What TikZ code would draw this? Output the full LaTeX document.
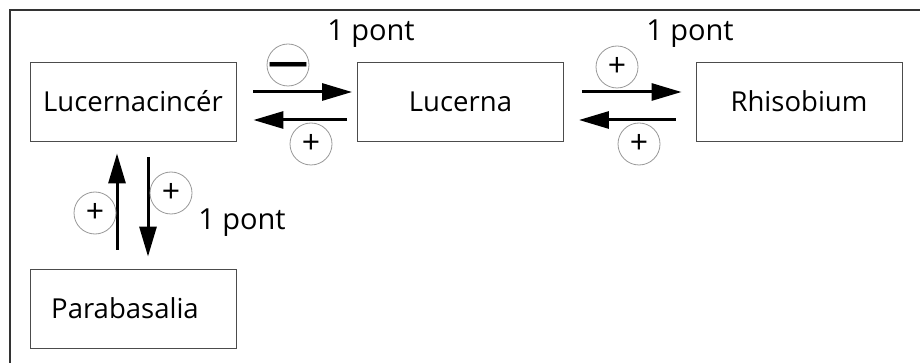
\documentclass[tikz,border=0pt]{standalone}
\usepackage{fontspec}
\setmainfont{Open Sans}
\usetikzlibrary{arrows.meta}

\tikzset{
  taxon/.style={draw=black!70, line width=0.9pt, minimum width=206pt,
    minimum height=79pt, inner sep=0pt, font=\fontsize{27.5}{30}\selectfont},
  effect/.style={draw=black!40, line width=0.8pt, circle, minimum size=42pt,
    inner sep=0pt, font=\fontsize{32}{32}\selectfont},
  flow/.style={line width=3pt, -{Triangle[length=30pt,width=17pt]}},
  gain/.style={font=\fontsize{29}{32}\selectfont}
}

\begin{document}
\begin{tikzpicture}[x=1pt,y=-1pt]
  \useasboundingbox[fill=white] (0,0) rectangle (920,363);

  % Outer frame (runs off the right and bottom edge)
  \draw[black!80, line width=1.4pt] (10,10) rectangle (940,390);

  % Taxa
  \node[taxon] (luccin) at (133,101.5) {Lucernacincér};
  \node[taxon] (lucerna) at (460.5,101.5) {Lucerna};
  \node[taxon] (rhiso) at (799,101.5) {Rhisobium};
  \node[taxon] (parab) at (133,308.5) {\hspace*{-16pt}Parabasalia};

  % Lucernacincér <-> Lucerna
  \draw[flow] ([xshift=17pt,yshift=9.5pt]luccin.east) -- ([xshift=-5pt,yshift=9.5pt]lucerna.west);
  \draw[flow] ([xshift=-10pt,yshift=-18.5pt]lucerna.west) -- ([xshift=17pt,yshift=-18.5pt]luccin.east);

  % Lucerna <-> Rhisobium
  \draw[flow] ([xshift=18pt,yshift=9.5pt]lucerna.east) -- ([xshift=-14pt,yshift=9.5pt]rhiso.west);
  \draw[flow] ([xshift=-20pt,yshift=-18.5pt]rhiso.west) -- ([xshift=15pt,yshift=-18.5pt]lucerna.east);

  % Lucernacincér <-> Parabasalia
  \draw[flow] ([xshift=-16pt,yshift=19pt]parab.north) -- ([xshift=-16pt,yshift=-12pt]luccin.south);
  \draw[flow] ([xshift=15pt,yshift=-16pt]luccin.south) -- ([xshift=15pt,yshift=12pt]parab.north);

  % Effect signs
  \node[effect] (ea) at (288,65)  {\fontsize{40}{40}\selectfont\bfseries\raisebox{-11pt}[0pt][0pt]{—}};
  \node[effect] (eb) at (311,144) {+};
  \node[effect] (ec) at (617,67)  {+};
  \node[effect] (ed) at (639,144) {+};
  \node[effect] (ee) at (95,213)  {+};
  \node[effect] (ef) at (171,193) {+};

  % Gains
  \node[gain] (ga) at (371,34)  {1 pont};
  \node[gain] (gb) at (690,34)  {1 pont};
  \node[gain] (gc) at (242,223) {1 pont};
\end{tikzpicture}
\end{document}
